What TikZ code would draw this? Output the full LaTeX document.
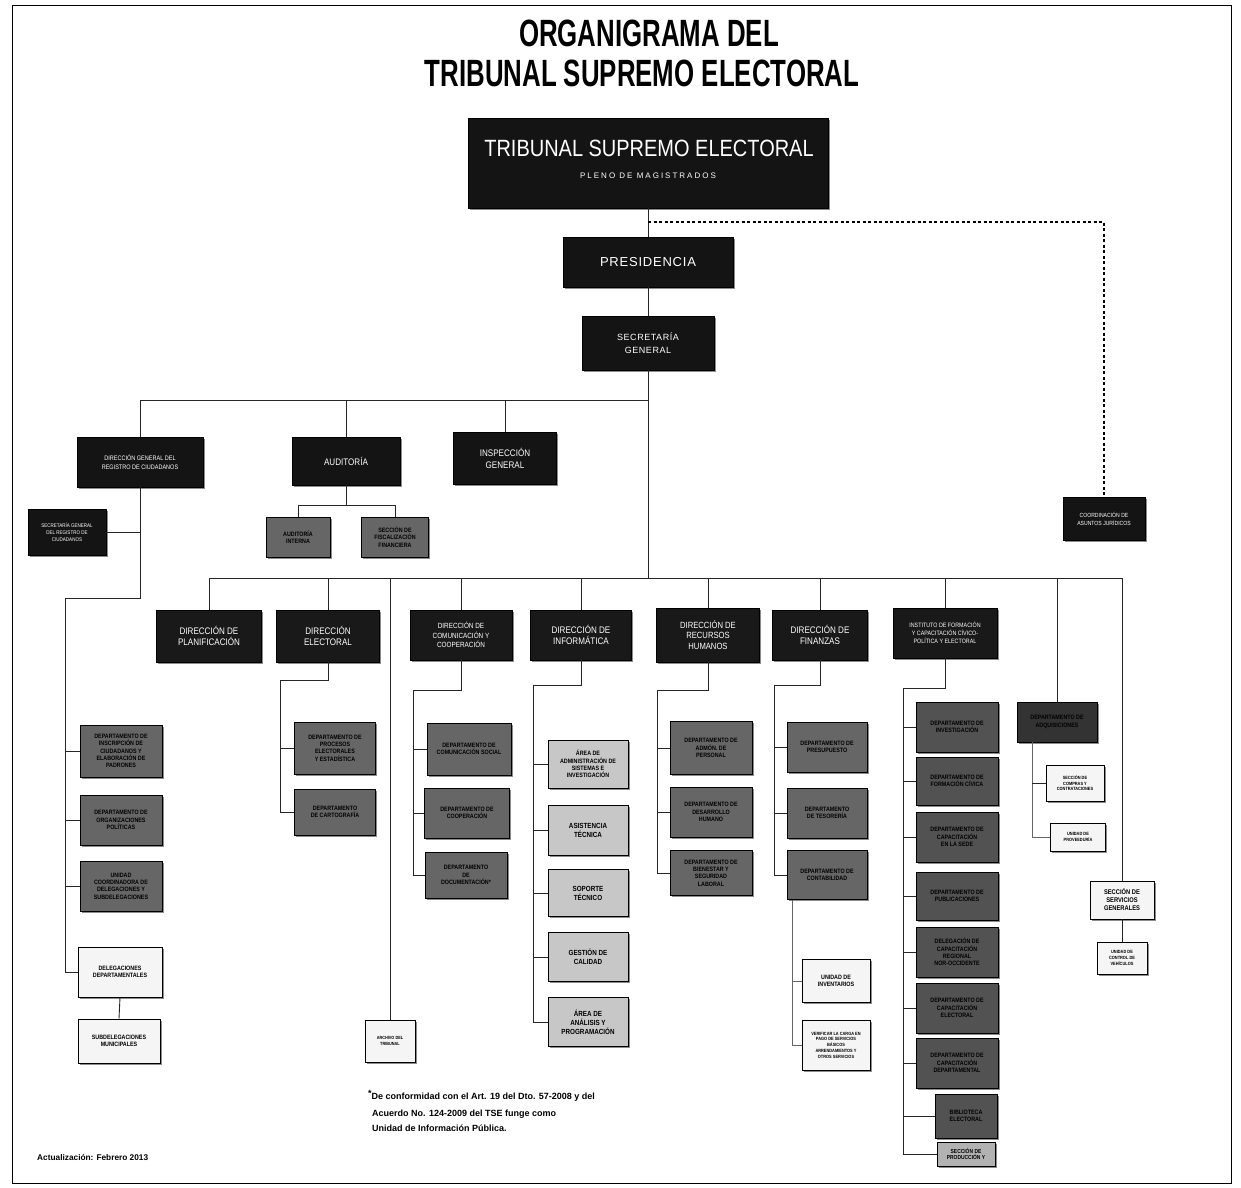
\documentclass[tikz,border=0pt]{standalone}
\usepackage{fontspec}
\setmainfont{Liberation Sans}
\newfontfamily\cfnt[FakeStretch=0.85]{Liberation Sans}
\newfontfamily\ttlfnt[FakeStretch=0.68]{Liberation Sans}
\newfontfamily\spfnt[LetterSpace=25]{Liberation Sans}
\newfontfamily\smfnt[LetterSpace=6]{Liberation Sans}
\usetikzlibrary{shadows}
\tikzset{
  box/.style={draw=black, line width=0.6pt, align=center, inner sep=1pt,
    drop shadow={shadow xshift=1.8pt,shadow yshift=-1.8pt,fill=black!45,opacity=1}},
  tbox/.style={box, fill=black!92, text=white},
  dirbox/.style={box, fill=black!90, text=white, font=\cfnt\fontsize{9.5}{11.5}\selectfont},
  gbox/.style={box, fill=black!60, text=black, font=\cfnt\bfseries\fontsize{6.3}{7.4}\selectfont},
  dgbox/.style={gbox, fill=black!68},
  lbox/.style={box, fill=black!22, text=black, font=\cfnt\bfseries\fontsize{7.4}{9}\selectfont},
  wbox/.style={box, fill=black!4, text=black, font=\cfnt\bfseries\fontsize{6.3}{7.4}\selectfont},
  ln/.style={line width=0.9pt, black!85},
  note/.style={font=\bfseries\fontsize{9}{10}\selectfont, anchor=west, inner sep=0pt}
}
\begin{document}
\begin{tikzpicture}[x=1pt,y=-1pt]
\useasboundingbox (0,0) rectangle (1241,1187);
\fill[white] (0,0) rectangle (1241,1187);
\draw[line width=1pt] (12,5) rectangle (1231,1183);

% title
\node[font=\ttlfnt\bfseries\fontsize{38}{40}\selectfont, inner sep=0pt] (t1) at (649,33) {ORGANIGRAMA DEL};
\node[font=\ttlfnt\bfseries\fontsize{38}{40}\selectfont, inner sep=0pt] (t2) at (642,73) {TRIBUNAL SUPREMO ELECTORAL};

% top nodes
\node[tbox, minimum width=360, minimum height=90] (tse) at (648,163) {};
\node[text=white, font=\cfnt\fontsize{23.5}{25}\selectfont, inner sep=0pt] (tset) at (649,148) {TRIBUNAL SUPREMO ELECTORAL};
\node[text=white, font=\spfnt\fontsize{8}{8}\selectfont, inner sep=0pt] (tsep) at (648,176) {PLENO DE MAGISTRADOS};
\node[tbox, minimum width=170, minimum height=50, font=\smfnt\fontsize{13}{15}\selectfont] (pres) at (648,262) {PRESIDENCIA};
\node[tbox, minimum width=132, minimum height=54, font=\smfnt\fontsize{9}{13}\selectfont] (sg) at (648,343) {SECRETARÍA\\GENERAL};
\node[tbox, minimum width=82, minimum height=43, font=\cfnt\fontsize{6}{7.5}\selectfont] (coord) at (1104,519) {COORDINACIÓN DE\\ASUNTOS JURÍDICOS};

\coordinate (dj) at (648,222);
\draw[ln] (tse.south) -- (pres.north);
\draw[ln] (pres.south) -- (sg.north);
\draw[line width=1.1pt, dashed, dash pattern=on 3pt off 2.5pt] (dj) -| (coord.north);

% second row
\node[tbox, minimum width=126, minimum height=50, font=\cfnt\fontsize{6.5}{8.5}\selectfont] (dgrc) at (140,462) {DIRECCIÓN GENERAL DEL\\REGISTRO DE CIUDADANOS};
\node[tbox, minimum width=108, minimum height=48, font=\cfnt\fontsize{9.5}{11}\selectfont] (aud) at (346,461) {AUDITORÍA};
\node[tbox, minimum width=103, minimum height=52, font=\cfnt\fontsize{9.5}{12}\selectfont] (insp) at (505,458) {INSPECCIÓN\\GENERAL};
\node[tbox, minimum width=78, minimum height=46, font=\cfnt\fontsize{5.3}{6.8}\selectfont] (sgrc) at (67,532) {SECRETARÍA GENERAL\\DEL REGISTRO DE\\CIUDADANOS};
\node[gbox, minimum width=64, minimum height=40] (au1) at (298,537) {AUDITORÍA\\INTERNA};
\node[gbox, minimum width=67, minimum height=40] (au2) at (395,537) {SECCIÓN DE\\FISCALIZACIÓN\\FINANCIERA};

\coordinate (busA) at (0,400);
\coordinate (busB) at (0,578);
\coordinate (aj) at (0,505);
\draw[ln] (dgrc.north) -- (dgrc.north |- busA) -- (sg.south |- busA);
\draw[ln] (aud.north) -- (aud.north |- busA);
\draw[ln] (insp.north) -- (insp.north |- busA);
\draw[ln] (sg.south) -- (sg.south |- busB);
\draw[ln] (aud.south) -- (aud.south |- aj);
\draw[ln] (au1.north) -- (au1.north |- aj) -- (au2.north |- aj) -- (au2.north);
\draw[ln] (sgrc.east) -- (sgrc.east -| dgrc.south);

% registro de ciudadanos column
\node[gbox, minimum width=82, minimum height=52] (rc1) at (121,751) {DEPARTAMENTO DE\\INSCRIPCIÓN DE\\CIUDADANOS Y\\ELABORACIÓN DE\\PADRONES};
\node[gbox, minimum width=82, minimum height=50] (rc2) at (121,820) {DEPARTAMENTO DE\\ORGANIZACIONES\\POLÍTICAS};
\node[gbox, minimum width=82, minimum height=50] (rc3) at (121,886) {UNIDAD\\COORDINADORA DE\\DELEGACIONES Y\\SUBDELEGACIONES};
\node[wbox, minimum width=84, minimum height=50] (deleg) at (120,972) {DELEGACIONES\\DEPARTAMENTALES};
\node[wbox, minimum width=82, minimum height=44] (subdel) at (119,1041) {SUBDELEGACIONES\\MUNICIPALES};
\coordinate (lv) at (65,598);
\draw[ln] (dgrc.south) |- (lv) -- (lv |- deleg.west) -- (deleg.west);
\draw[ln] (lv |- rc1.west) -- (rc1.west);
\draw[ln] (lv |- rc2.west) -- (rc2.west);
\draw[ln] (lv |- rc3.west) -- (rc3.west);
\draw[ln] (deleg.south) -- (subdel.north);

% direcciones row
\node[dirbox, minimum width=105, minimum height=52] (plan) at (209,636) {DIRECCIÓN DE\\PLANIFICACIÓN};
\node[dirbox, minimum width=103, minimum height=52] (elec) at (328,636) {DIRECCIÓN\\ELECTORAL};
\node[dirbox, minimum width=102, minimum height=50, font=\cfnt\fontsize{7.5}{9.5}\selectfont] (com) at (461,635) {DIRECCIÓN DE\\COMUNICACIÓN Y\\COOPERACIÓN};
\node[dirbox, minimum width=101, minimum height=50] (inf) at (581,635) {DIRECCIÓN DE\\INFORMÁTICA};
\node[dirbox, minimum width=103, minimum height=54, font=\cfnt\fontsize{9}{10.5}\selectfont] (rrhh) at (708,635) {DIRECCIÓN DE\\RECURSOS\\HUMANOS};
\node[dirbox, minimum width=95, minimum height=50] (fin) at (820,635) {DIRECCIÓN DE\\FINANZAS};
\node[dirbox, minimum width=104, minimum height=50, font=\cfnt\fontsize{6.3}{8}\selectfont] (ifc) at (945,633) {INSTITUTO DE FORMACIÓN\\Y CAPACITACIÓN CÍVICO-\\POLÍTICA Y ELECTORAL};
\node[wbox, minimum width=50, minimum height=42, font=\cfnt\bfseries\fontsize{4.5}{5.5}\selectfont] (arch) at (390,1041) {ARCHIVO DEL\\TRIBUNAL};
\node[tbox, minimum width=80, minimum height=40, font=\cfnt\bfseries\fontsize{6.3}{7.4}\selectfont, fill=black!80, text=black] (adq) at (1057,722) {DEPARTAMENTO DE\\ADQUISICIONES};
\node[wbox, minimum width=64, minimum height=38, font=\cfnt\bfseries\fontsize{6.8}{8}\selectfont] (srvg) at (1122,900) {SECCIÓN DE\\SERVICIOS\\GENERALES};

\draw[ln] (plan.north |- busB) -- (srvg.north |- busB);
\foreach \n in {plan,elec,com,inf,rrhh,fin,ifc,adq,srvg,arch}
  \draw[ln] (\n.north) -- (\n.north |- busB);

% electoral
\node[gbox, minimum width=81, minimum height=52] (el1) at (335,748) {DEPARTAMENTO DE\\PROCESOS\\ELECTORALES\\Y ESTADÍSTICA};
\node[gbox, minimum width=81, minimum height=46] (el2) at (335,812) {DEPARTAMENTO\\DE CARTOGRAFÍA};
\coordinate (ev) at (280,680);
\draw[ln] (elec.south) |- (ev) -- (ev |- el2.west) -- (el2.west);
\draw[ln] (ev |- el1.west) -- (el1.west);

% comunicacion
\node[gbox, minimum width=84, minimum height=52] (co1) at (469,749) {DEPARTAMENTO DE\\COMUNICACIÓN SOCIAL};
\node[gbox, minimum width=85, minimum height=50] (co2) at (467,813) {DEPARTAMENTO DE\\COOPERACIÓN};
\node[gbox, minimum width=82, minimum height=46] (co3) at (466,875) {DEPARTAMENTO\\DE\\DOCUMENTACIÓN*};
\coordinate (cv) at (413,690);
\draw[ln] (com.south) |- (cv) -- (cv |- co3.west) -- (co3.west);
\draw[ln] (cv |- co1.west) -- (co1.west);
\draw[ln] (cv |- co2.west) -- (co2.west);

% informatica
\node[lbox, minimum width=80, minimum height=48, font=\cfnt\bfseries\fontsize{6.3}{7.4}\selectfont] (in1) at (588,764) {ÁREA DE\\ADMINISTRACIÓN DE\\SISTEMAS E\\INVESTIGACIÓN};
\node[lbox, minimum width=80, minimum height=50] (in2) at (588,830) {ASISTENCIA\\TÉCNICA};
\node[lbox, minimum width=80, minimum height=47] (in3) at (588,893) {SOPORTE\\TÉCNICO};
\node[lbox, minimum width=80, minimum height=49] (in4) at (588,957) {GESTIÓN DE\\CALIDAD};
\node[lbox, minimum width=80, minimum height=49] (in5) at (588,1022) {ÁREA DE\\ANÁLISIS Y\\PROGRAMACIÓN};
\coordinate (iv) at (533,685);
\draw[ln] (inf.south) |- (iv) -- (iv |- in5.west) -- (in5.west);
\foreach \n in {in1,in2,in3,in4} \draw[ln] (iv |- \n.west) -- (\n.west);

% recursos humanos
\node[gbox, minimum width=82, minimum height=53] (rh1) at (711,748) {DEPARTAMENTO DE\\ADMÓN. DE\\PERSONAL};
\node[gbox, minimum width=82, minimum height=50] (rh2) at (711,812) {DEPARTAMENTO DE\\DESARROLLO\\HUMANO};
\node[gbox, minimum width=82, minimum height=45] (rh3) at (711,873) {DEPARTAMENTO DE\\BIENESTAR Y\\SEGURIDAD\\LABORAL};
\coordinate (rv) at (657,690);
\draw[ln] (rrhh.south) |- (rv) -- (rv |- rh3.west) -- (rh3.west);
\draw[ln] (rv |- rh1.west) -- (rh1.west);
\draw[ln] (rv |- rh2.west) -- (rh2.west);

% finanzas
\node[gbox, minimum width=80, minimum height=50] (fi1) at (827,747) {DEPARTAMENTO DE\\PRESUPUESTO};
\node[gbox, minimum width=80, minimum height=50] (fi2) at (827,813) {DEPARTAMENTO\\DE TESORERÍA};
\node[gbox, minimum width=80, minimum height=49] (fi3) at (827,875) {DEPARTAMENTO DE\\CONTABILIDAD};
\node[wbox, minimum width=68, minimum height=43] (fu1) at (836,981) {UNIDAD DE\\INVENTARIOS};
\node[wbox, minimum width=68, minimum height=50, font=\cfnt\bfseries\fontsize{4.6}{5.8}\selectfont] (fu2) at (836,1045) {VERIFICAR LA CARGA EN\\PAGO DE SERVICIOS\\BÁSICOS\\ARRENDAMIENTOS Y\\OTROS SERVICIOS};
\coordinate (fv) at (774,685);
\draw[ln] (fin.south) |- (fv) -- (fv |- fi3.west) -- (fi3.west);
\draw[ln] (fv |- fi1.west) -- (fi1.west);
\draw[ln] (fv |- fi2.west) -- (fi2.west);
\coordinate (fcv) at (792,0);
\draw[ln, black!60] (fi3.south -| fcv) -- (fcv |- fu2.west) -- (fu2.west);
\draw[ln, black!60] (fcv |- fu1.west) -- (fu1.west);

% instituto
\node[dgbox, minimum width=82, minimum height=50] (is1) at (957,727) {DEPARTAMENTO DE\\INVESTIGACIÓN};
\node[dgbox, minimum width=82, minimum height=48] (is2) at (957,781) {DEPARTAMENTO DE\\FORMACIÓN CÍVICA};
\node[dgbox, minimum width=82, minimum height=50] (is3) at (957,837) {DEPARTAMENTO DE\\CAPACITACIÓN\\EN LA SEDE};
\node[dgbox, minimum width=82, minimum height=48] (is4) at (957,896) {DEPARTAMENTO DE\\PUBLICACIONES};
\node[dgbox, minimum width=82, minimum height=50] (is5) at (957,952) {DELEGACIÓN DE\\CAPACITACIÓN\\REGIONAL\\NOR-OCCIDENTE};
\node[dgbox, minimum width=82, minimum height=50] (is6) at (957,1008) {DEPARTAMENTO DE\\CAPACITACIÓN\\ELECTORAL};
\node[dgbox, minimum width=82, minimum height=50] (is7) at (957,1063) {DEPARTAMENTO DE\\CAPACITACIÓN\\DEPARTAMENTAL};
\node[dgbox, minimum width=62, minimum height=44] (is8) at (966,1116) {BIBLIOTECA\\ELECTORAL};
\node[gbox, minimum width=58, minimum height=24, fill=black!30, font=\cfnt\bfseries\fontsize{5.8}{6.6}\selectfont] (is9) at (966,1154) {SECCIÓN DE\\PRODUCCIÓN Y};
\coordinate (isv) at (903,688);
\draw[ln] (ifc.south) |- (isv) -- (isv |- is9.west) -- (is9.west);
\foreach \n in {is1,is2,is3,is4,is5,is6,is7,is8} \draw[ln] (isv |- \n.west) -- (\n.west);

% right column
\node[wbox, minimum width=58, minimum height=36, font=\cfnt\bfseries\fontsize{4.6}{5.8}\selectfont] (comp) at (1075,783) {SECCIÓN DE\\COMPRAS Y\\CONTRATACIONES};
\node[wbox, minimum width=55, minimum height=28, font=\cfnt\bfseries\fontsize{4.6}{5.8}\selectfont] (prov) at (1078,837) {UNIDAD DE\\PROVEEDURÍA};
\coordinate (av) at (1032,0);
\draw[ln, black!60] (adq.south -| av) -- (av |- prov.west) -- (prov.west);
\draw[ln] (av |- comp.west) -- (comp.west);
\node[wbox, minimum width=50, minimum height=32, font=\cfnt\bfseries\fontsize{4.6}{5.8}\selectfont] (veh) at (1122,958) {UNIDAD DE\\CONTROL DE\\VEHÍCULOS};
\draw[ln] (srvg.south) -- (veh.north);

% notes
\node[note] (n1) at (368,1096) {\raisebox{3.5pt}{*}De conformidad con el Art. 19 del Dto. 57-2008 y del};
\node[note] (n2) at (372,1114) {Acuerdo No. 124-2009 del TSE funge como};
\node[note] (n3) at (372,1128) {Unidad de Información Pública.};
\node[note, font=\bfseries\fontsize{8.3}{9}\selectfont] (n4) at (37,1157) {Actualización: Febrero 2013};
\end{tikzpicture}
\end{document}
